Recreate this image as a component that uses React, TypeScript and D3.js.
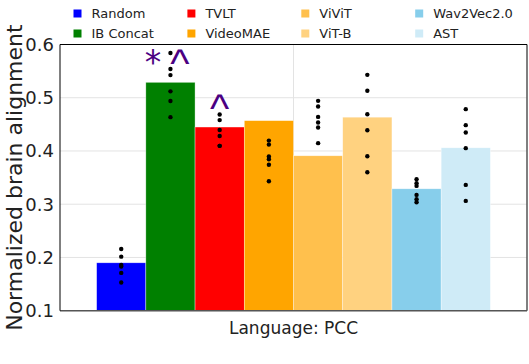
import * as d3 from 'd3';
import React from 'react';

// bar values (mean) and per-subject points
const models = ['Random', 'IB Concat', 'TVLT', 'VideoMAE', 'ViViT', 'ViT-B', 'Wav2Vec2.0', 'AST'];
const colors = ['#0000ff', '#008000', '#ff0000', '#ffa500', '#ffc04d', '#ffd280', '#87ceeb', '#cfebf7'];
const means = [0.19, 0.529, 0.445, 0.457, 0.391, 0.4635, 0.329, 0.406];
const points = [
    [0.216, 0.2015, 0.186, 0.183, 0.171, 0.153],
    [0.584, 0.554, 0.5425, 0.512, 0.494, 0.4635],
    [0.4684, 0.458, 0.4393, 0.428, 0.4096, 0.4096],
    [0.4195, 0.412, 0.3895, 0.3846, 0.374, 0.3432],
    [0.4942, 0.4835, 0.464, 0.4534, 0.444, 0.4147],
    [0.543, 0.513, 0.469, 0.439, 0.39, 0.36],
    [0.347, 0.3395, 0.3344, 0.3175, 0.3094, 0.3038],
    [0.4786, 0.4485, 0.4346, 0.4053, 0.3363, 0.3062],
];
const marks = ['', '*^', '^', '', '', '', '', ''];
const groups = ['Language: PCC'];
const yTicks = [0.1, 0.2, 0.3, 0.4, 0.5, 0.6];

const W = 529;
const H = 364;
const margin = { top: 44.5, right: 2, bottom: 53.3, left: 60 };
const font = 'DejaVu Sans, Verdana, sans-serif';

// significance symbols: "*" and a taller "^"
const markStyle = (c: string) => c === '*'
    ? { fontSize: 33, fontFamily: font, dy: -3.5 }
    : { fontSize: 41, fontFamily: 'Liberation Sans, Arial, sans-serif', dy: 0 };

const App = () => {
    const plotW = W - margin.left - margin.right;
    const plotH = H - margin.top - margin.bottom;

    const x0 = d3.scaleBand().domain(groups).range([0, plotW]).paddingInner(0).paddingOuter(0.093);
    const x1 = d3.scaleBand().domain(models).range([0, x0.bandwidth()]).padding(0);
    const y = d3.scaleLinear().domain([0.1, 0.6]).range([plotH, 0]);
    const fmt = d3.format('.1f');

    const bw = x1.bandwidth();

    return (
        <svg width={W} height={H} style={{ position: 'absolute', left: 0, top: 0, fontFamily: font }}>
            <rect width={W} height={H} fill="white" />

            {/* legend, 4 columns x 2 rows */}
            {models.map((m, i) => {
                const col = Math.floor(i / 2);
                const row = i % 2;
                const lx = 73.5 + col * 113.9;
                const ly = 13.5 + row * 20;
                return (
                    <g key={m} transform={`translate(${lx},${ly})`}>
                        <rect x={0} y={-4} width={8} height={8} fill={colors[i]} />
                        <text x={18} y={0} dy="0.35em" fontSize={13} fill="#222">{m}</text>
                    </g>
                );
            })}

            <g transform={`translate(${margin.left},${margin.top})`}>
                {/* grid */}
                {yTicks.map((t) => (
                    <line key={t} x1={0} x2={plotW} y1={y(t)} y2={y(t)} stroke="#e3e3e3" strokeWidth={1} />
                ))}
                {groups.map((g) => (
                    <line key={g} x1={x0(g)! + x0.bandwidth() / 2} x2={x0(g)! + x0.bandwidth() / 2}
                        y1={0} y2={plotH} stroke="#e3e3e3" strokeWidth={1} />
                ))}

                {/* bars */}
                {groups.map((g) => (
                    <g key={g} transform={`translate(${x0(g)},0)`}>
                        {models.map((m, i) => (
                            <rect key={m} x={x1(m)} y={y(means[i])} width={bw} height={plotH - y(means[i])}
                                fill={colors[i]} stroke="white" strokeOpacity={0.6} strokeWidth={0.6} />
                        ))}
                        {models.map((m, i) => points[i].map((v, j) => (
                            <circle key={m + j} cx={x1(m)! + bw / 2} cy={y(v)} r={2.2} fill="black" />
                        )))}
                        {models.map((m, i) => {
                            if (!marks[i]) return null;
                            const cx = x1(m)! + bw / 2;
                            const chars = marks[i].split('');
                            const offs = chars.length === 2 ? [-17.5, 9.5] : [0];
                            return (
                                <text key={m + 'mark'} y={y(means[i]) - 5} textAnchor="middle" fill="#4b0082">
                                    {chars.map((c, k) => {
                                        const s = markStyle(c);
                                        return (
                                            <tspan key={k} x={cx + offs[k]} dy={k === 0 ? s.dy : s.dy - markStyle(chars[k - 1]).dy}
                                                fontSize={s.fontSize} fontFamily={s.fontFamily}>{c}</tspan>
                                        );
                                    })}
                                </text>
                            );
                        })}
                    </g>
                ))}

                {/* frame */}
                <line x1={0} x2={plotW} y1={plotH} y2={plotH} stroke="#555" strokeWidth={1.5} />
                <line x1={plotW} x2={plotW} y1={0} y2={plotH} stroke="#555" strokeWidth={1.5} />
                <line x1={0} x2={plotW} y1={0} y2={0} stroke="black" strokeWidth={1} />
                <line x1={0} x2={0} y1={0} y2={plotH} stroke="black" strokeWidth={1} />

                {/* y ticks */}
                {yTicks.map((t) => (
                    <text key={t} x={-6} y={y(t)} dy="0.35em" textAnchor="end" fontSize={18} fill="#222">{fmt(t)}</text>
                ))}

                {/* x label */}
                {groups.map((g) => (
                    <text key={g} x={x0(g)! + x0.bandwidth() / 2} y={plotH + 17} dy="0.35em" textAnchor="middle"
                        fontSize={17} fill="#222">{g}</text>
                ))}

                <text transform={`translate(${-46},${plotH / 2}) rotate(-90)`} textAnchor="middle" dy="0.35em"
                    fontSize={22} fill="#222">Normalized brain alignment</text>
            </g>
        </svg>
    );
};

export default App;
